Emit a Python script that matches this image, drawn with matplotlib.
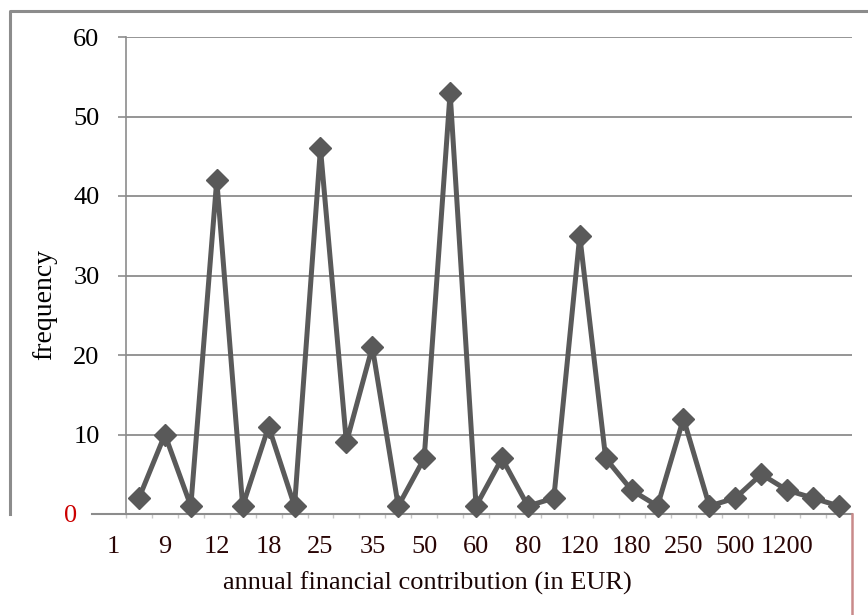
import matplotlib
matplotlib.use("Agg")
import matplotlib.pyplot as plt
import matplotlib.transforms as mtransforms
from matplotlib.lines import Line2D
import numpy as np

# ---- data -------------------------------------------------------------
frequency = [2, 10, 1, 42, 1, 11, 1, 46, 9, 21, 1, 7, 53, 1, 7, 1,
             2, 35, 7, 3, 1, 12, 1, 2, 5, 3, 2, 1]
tick_labels = ["1", "9", "12", "18", "25", "35", "50", "60", "80", "120",
               "180", "250", "500", "1200"]
y_ticks = [0, 10, 20, 30, 40, 50, 60]
x_label = "annual financial contribution (in EUR)"
y_label = "frequency"

plt.rcParams['font.family'] = ['Liberation Serif', 'DejaVu Serif']

fig = plt.figure(figsize=(8.68, 6.15), dpi=100)
W, H = 868, 615
ax = fig.add_axes([126 / W, 1 - 514 / H, (852 - 126) / W, (514 - 37) / H])

x = np.arange(len(frequency))
ax.plot(x, frequency, color="#5a5a5a", lw=3.6, marker="D", ms=11.5,
        markerfacecolor="#595959", markeredgecolor="#595959", zorder=3,
        clip_on=False)

ax.set_xlim(-0.5, len(frequency) - 0.5)
ax.set_ylim(0, 60)
ax.set_yticks(y_ticks)
ax.set_yticklabels([str(v) for v in y_ticks])
ax.yaxis.grid(True, color="#8c8c8c", lw=1.3)
ax.set_axisbelow(True)

# labelled every other category; the first label sits one step left of the axis
label_pos = [-1 + 2 * i for i in range(len(tick_labels))]
ax.set_xticks([])
for pos, lab in zip(label_pos, tick_labels):
    ax.text(pos, -0.07, lab, transform=ax.get_xaxis_transform(),
            ha="center", va="center", fontsize=19, color="#2a0505",
            clip_on=False)
ax.set_xticks(np.arange(-0.5, len(frequency), 1), minor=True)
ax.tick_params(axis="x", which="minor", length=3, color="#c8c8c8", width=1)

for s in ["top", "right"]:
    ax.spines[s].set_visible(False)
ax.spines["left"].set_color("#8c8c8c")
ax.spines["bottom"].set_color("#8c8c8c")
ax.spines["left"].set_linewidth(1.2)
ax.spines["bottom"].set_linewidth(1.5)

ax.tick_params(axis="y", length=6, color="#8c8c8c", width=1.2,
               labelsize=19, pad=13, labelcolor="black")

ylabs = ax.get_yticklabels()
ylabs[0].set_color("#cc0000")
ylabs[0].set_transform(ylabs[0].get_transform() +
                       mtransforms.ScaledTranslation(-0.22, 0, fig.dpi_scale_trans))

fig.text(427 / W, 1 - 583 / H, x_label, ha="center", va="center",
         fontsize=19, color="#1a0505")
fig.text(45 / W, 1 - 305 / H, y_label, ha="center", va="center",
         fontsize=20, rotation=90, color="black")

# outer chart frame (partly visible in the reference)
fig.add_artist(Line2D([10 / W, 10 / W, 1.0], [1 - 514 / H, 1 - 11 / H, 1 - 11 / H],
                      color="#8c8c8c", lw=2.2, transform=fig.transFigure))
fig.add_artist(Line2D([852 / W, 852 / W], [1 - 514 / H, 0.0],
                      color="#c98a8a", lw=1.8, transform=fig.transFigure))
fig.add_artist(Line2D([92 / W, 126 / W], [1 - 514 / H, 1 - 514 / H],
                      color="#8c8c8c", lw=1.5, transform=fig.transFigure))

fig.savefig("out.png", dpi=100, facecolor="white")
